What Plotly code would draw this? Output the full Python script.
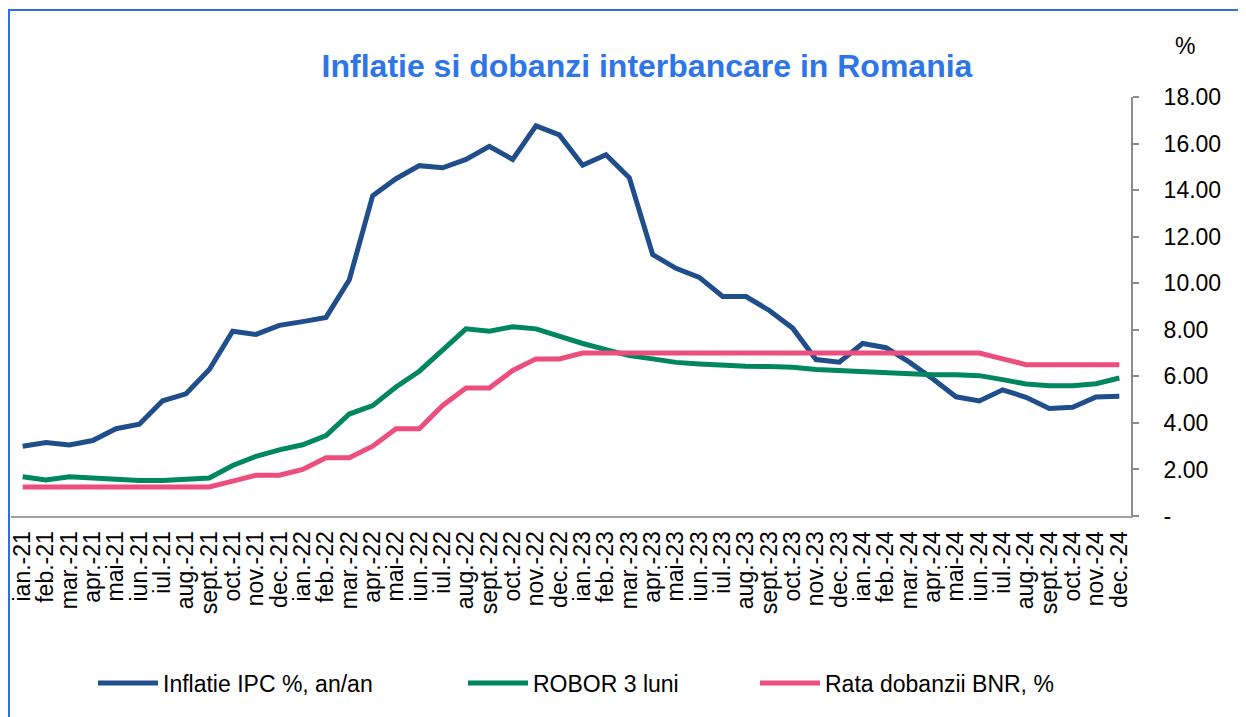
import plotly.graph_objects as go

months = ["ian.", "feb.", "mar.", "apr.", "mai", "iun.", "iul.", "aug.", "sept.", "oct.", "nov.", "dec."]
years = ["21", "22", "23", "24"]
categories = [m + "-" + y for y in years for m in months]

inflatie = [3.00, 3.16, 3.05, 3.24, 3.75, 3.94, 4.95, 5.25, 6.29, 7.94, 7.80, 8.19,
            8.35, 8.53, 10.15, 13.76, 14.49, 15.05, 14.96, 15.32, 15.88, 15.32, 16.76, 16.37,
            15.07, 15.52, 14.53, 11.23, 10.64, 10.25, 9.43, 9.43, 8.83, 8.07, 6.72, 6.61,
            7.41, 7.23, 6.61, 5.90, 5.12, 4.94, 5.42, 5.10, 4.62, 4.67, 5.11, 5.14]
robor = [1.69, 1.55, 1.69, 1.63, 1.58, 1.53, 1.53, 1.56, 1.63, 2.17, 2.56, 2.84,
         3.06, 3.45, 4.38, 4.74, 5.54, 6.22, 7.15, 8.04, 7.94, 8.13, 8.04, 7.70,
         7.41, 7.15, 6.89, 6.75, 6.60, 6.53, 6.47, 6.43, 6.42, 6.39, 6.29, 6.24,
         6.17, 6.13, 6.09, 6.07, 6.07, 6.03, 5.86, 5.67, 5.60, 5.60, 5.68, 5.93]
bnr = [1.25, 1.25, 1.25, 1.25, 1.25, 1.25, 1.25, 1.25, 1.25, 1.50, 1.75, 1.75,
       2.00, 2.50, 2.50, 3.00, 3.75, 3.75, 4.75, 5.50, 5.50, 6.25, 6.75, 6.75,
       7.00, 7.00, 7.00, 7.00, 7.00, 7.00, 7.00, 7.00, 7.00, 7.00, 7.00, 7.00,
       7.00, 7.00, 7.00, 7.00, 7.00, 7.00, 6.75, 6.50, 6.50, 6.50, 6.50, 6.50]

y_tickvals = [0, 2, 4, 6, 8, 10, 12, 14, 16, 18]
y_ticktext = ["-", "2.00", "4.00", "6.00", "8.00", "10.00", "12.00", "14.00", "16.00", "18.00"]

series_names = ["Inflatie IPC %, an/an", "ROBOR 3 luni", "Rata dobanzii BNR, %"]
series_colors = ["#1F4E8A", "#00875F", "#EC4F7D"]

FONT = "Liberation Sans, Arial, sans-serif"

fig = go.Figure()
for name, vals, col, lg in zip(series_names, [inflatie, robor, bnr], series_colors,
                               ["legend", "legend2", "legend3"]):
    fig.add_trace(go.Scatter(x=categories, y=vals, mode="lines", name=name,
                             line=dict(color=col, width=5), legend=lg, showlegend=True))

# page offset (body margin) of 8px
OFF = 8
W, H = 1246, 717
PL, PR, PT, PB = 11, 1131, 97, 516   # plot area in page pixels
L, T = PL - OFF, PT - OFF
pw, ph = PR - PL, PB - PT
R = W - L - pw
B = H - T - ph

def px_x(x):
    return (x - OFF - L) / pw

def px_y(y):
    return (T + ph - (y - OFF)) / ph

leg_common = dict(orientation="h", font=dict(family=FONT, size=23, color="#000000"),
                  bgcolor="rgba(0,0,0,0)", yanchor="middle", xanchor="left",
                  itemwidth=60, visible=True)

fig.update_layout(
    width=W, height=H,
    margin=dict(l=L, r=R, t=T, b=B, autoexpand=False),
    paper_bgcolor="white", plot_bgcolor="white",
    font=dict(family=FONT, size=23, color="#000000"),
    title=dict(text="<b>Inflatie si dobanzi interbancare in Romania</b>",
               font=dict(family=FONT, size=32, color="#2E75E8"),
               x=(647 - OFF) / W, xanchor="center", y=1 - (66 - OFF) / H, yanchor="middle"),
    showlegend=True,
    legend=dict(x=px_x(93), y=px_y(683), **leg_common),
    legend2=dict(x=px_x(463), y=px_y(683), **leg_common),
    legend3=dict(x=px_x(755), y=px_y(683), **leg_common),
    xaxis=dict(type="category", categoryorder="array", categoryarray=categories,
               range=[-0.5, len(categories) - 0.5], tickangle=-90,
               tickmode="linear", dtick=1, tick0=0,
               showline=True, linecolor="#A0A0A0", linewidth=2,
               showgrid=False, ticks="", ticklabelstandoff=4,
               tickfont=dict(family=FONT, size=23, color="#000000")),
    yaxis=dict(side="right", range=[0, 18], tickvals=y_tickvals, ticktext=y_ticktext,
               showline=True, linecolor="#8C8C8C", linewidth=2, showgrid=False,
               ticks="outside", ticklen=6, tickwidth=2, tickcolor="#8C8C8C",
               ticklabelstandoff=20, zeroline=False,
               tickfont=dict(family=FONT, size=23, color="#000000")),
    shapes=[dict(type="rect", xref="paper", yref="paper",
                 x0=px_x(9), x1=px_x(1270), y0=px_y(740), y1=px_y(10),
                 line=dict(color="#2E6FE8", width=2), fillcolor="rgba(0,0,0,0)",
                 layer="below")],
    annotations=[dict(text="%", xref="paper", yref="paper", x=px_x(1185), y=px_y(46),
                      xanchor="center", yanchor="middle", showarrow=False,
                      font=dict(family=FONT, size=23, color="#000000"))],
)

fig.write_html("out.html")
